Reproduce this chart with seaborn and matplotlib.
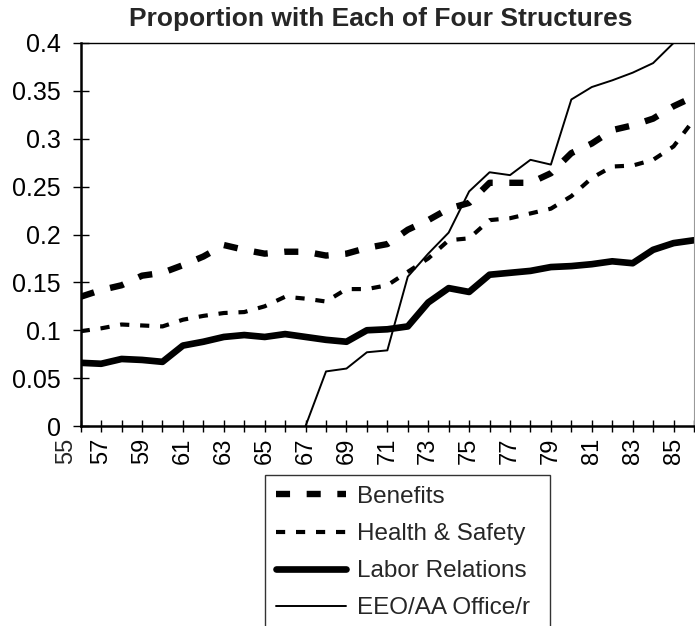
import matplotlib
matplotlib.use("Agg")
import matplotlib.pyplot as plt
import seaborn as sns
import pandas as pd

# category positions (year labels, two-digit) and the four series
years = list(range(56, 87))
eeo_years = list(range(67, 87))

benefits = [0.135, 0.142, 0.147, 0.157, 0.160, 0.168, 0.177, 0.189, 0.184, 0.180,
            0.182, 0.182, 0.178, 0.180, 0.186, 0.190, 0.205, 0.215, 0.227, 0.233,
            0.254, 0.254, 0.254, 0.264, 0.285, 0.295, 0.309, 0.314, 0.321, 0.334, 0.344]
health_safety = [0.099, 0.102, 0.106, 0.105, 0.104, 0.111, 0.115, 0.118, 0.119, 0.125,
                 0.135, 0.133, 0.130, 0.143, 0.143, 0.147, 0.161, 0.175, 0.194, 0.196,
                 0.215, 0.217, 0.222, 0.227, 0.240, 0.259, 0.271, 0.272, 0.278, 0.292, 0.320]
labor_relations = [0.066, 0.065, 0.070, 0.069, 0.067, 0.084, 0.088, 0.093, 0.095, 0.093,
                   0.096, 0.093, 0.090, 0.088, 0.100, 0.101, 0.104, 0.129, 0.144, 0.140,
                   0.158, 0.160, 0.162, 0.166, 0.167, 0.169, 0.172, 0.170, 0.184, 0.191, 0.194]
eeo_office = [0.0, 0.057, 0.060, 0.077, 0.079, 0.156, 0.180, 0.202, 0.245, 0.265,
              0.262, 0.278, 0.273, 0.341, 0.354, 0.361, 0.369, 0.379, 0.400, 0.410]

names = ["Benefits", "Health & Safety", "Labor Relations", "EEO/AA Office/r"]
ytick_values = [0, 0.05, 0.1, 0.15, 0.2, 0.25, 0.3, 0.35, 0.4]
ytick_labels = ["0", "0.05", "0.1", "0.15", "0.2", "0.25", "0.3", "0.35", "0.4"]
title = "Proportion with Each of Four Structures"

df = pd.concat([
    pd.DataFrame({"year": years, "share": benefits, "structure": names[0]}),
    pd.DataFrame({"year": years, "share": health_safety, "structure": names[1]}),
    pd.DataFrame({"year": years, "share": labor_relations, "structure": names[2]}),
    pd.DataFrame({"year": eeo_years, "share": eeo_office, "structure": names[3]}),
], ignore_index=True)

sns.set_style("ticks")
plt.rcParams["font.family"] = ["Liberation Sans", "DejaVu Sans"]

fig = plt.figure(figsize=(6.95, 6.26), dpi=100)
ax = fig.add_axes([80.7 / 695, 200 / 626, (694 - 80.7) / 695, 383 / 626])

sns.lineplot(data=df, x="year", y="share", hue="structure", style="structure",
             size="structure", hue_order=names, style_order=names, size_order=names,
             palette={n: "black" for n in names},
             dashes={names[0]: (2.2, 2.6), names[1]: (2.2, 2.6), names[2]: "", names[3]: ""},
             sizes={names[0]: 4.6, names[1]: 3.0, names[2]: 4.8, names[3]: 1.4},
             estimator=None, sort=False, legend=False, ax=ax)

ax.set_xlim(56, 85.85)
ax.set_ylim(0, 0.4)
ax.set_xlabel("")
ax.set_ylabel("")

ax.set_yticks(ytick_values)
ax.set_yticklabels(ytick_labels, fontsize=18)
ax.set_xticks(years)
ax.set_xticklabels([str(y) if y % 2 == 1 else "" for y in years], rotation=90, fontsize=17)
ax.tick_params(axis="y", direction="inout", length=11, width=1, pad=9, colors="black")
ax.tick_params(axis="x", direction="inout", length=9, width=1, pad=4, colors="black")

# first label sits left of the y axis
ax.annotate("55", xy=(55, 0), xycoords=("data", "axes fraction"),
            xytext=(4, -8.5), textcoords="offset points", rotation=90,
            ha="center", va="top", fontsize=17, annotation_clip=False)

for side in ["left", "bottom"]:
    ax.spines[side].set_linewidth(1.8)
    ax.spines[side].set_color("black")
ax.spines["top"].set_linewidth(1.0)
ax.spines["top"].set_color("black")
ax.spines["right"].set_linewidth(0.8)
ax.spines["right"].set_color("#999999")

fig.text(381 / 695, 1 - 19 / 626, title, ha="center", va="center",
         fontsize=19, fontweight="bold")

leg = fig.legend(handles=ax.get_lines()[:4], labels=names, loc="upper left",
                 bbox_to_anchor=(265 / 695, 0, 285 / 695, 1 - 475 / 626), mode="expand",
                 frameon=True, fancybox=False, edgecolor="black", fontsize=17.5,
                 handlelength=2.9, handletextpad=0.45, labelspacing=0.62,
                 borderpad=0.45, borderaxespad=0)
leg.get_frame().set_linewidth(1.0)

fig.savefig("out.png", dpi=100)
